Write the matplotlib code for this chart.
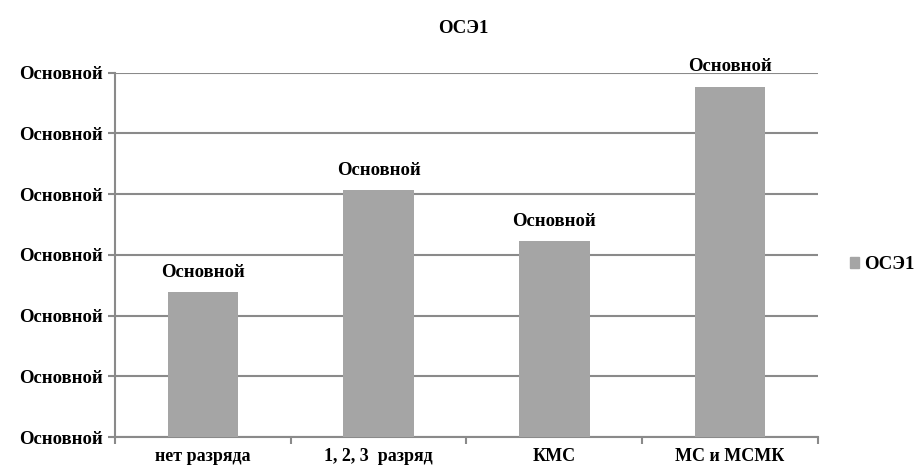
"""
Bar chart of the ОСЭ1 indicator by sports qualification level
"""

from matplotlib import pyplot as plt
from matplotlib.ticker import FixedLocator, FuncFormatter
from matplotlib.patches import Patch
import numpy as np

###############################################################################
categories = ['нет разряда', '1, 2, 3  разряд', 'КМС', 'МС и МСМК']
values = [2.39, 4.07, 3.23, 5.77]
bar_labels = ['Основной'] * 4
series_name = 'ОСЭ1'
title = 'ОСЭ1'
axis_label = 'Основной'

###############################################################################
plt.rcParams['font.family'] = ['Liberation Serif', 'DejaVu Serif']
plt.rcParams['font.weight'] = 'bold'

grey_line = '#8a8a8a'
bar_color = '#a5a5a5'
fs = 13.5

fig = plt.figure(figsize=(9.22, 4.69), dpi=100)
ax = fig.add_axes([0.1247, 0.068, 0.7625, 0.7772])

x = np.arange(len(categories))
bars = ax.bar(x, values, width=0.4, color=bar_color, zorder=3)
ax.bar_label(bars, labels=bar_labels, padding=8, fontsize=fs,
             fontweight='bold')

ax.set_xlim(-0.5, len(categories) - 0.5)
ax.set_ylim(0, 6)
ax.set_yticks(np.arange(0, 7))
ax.yaxis.set_major_formatter(FuncFormatter(lambda v, pos: axis_label))
ax.grid(axis='y', color=grey_line, linewidth=1.5, zorder=0)

# category names centred, tick marks on the boundaries
ax.set_xticks(x)
ax.set_xticklabels(categories, fontsize=13, fontweight='bold')
ax.xaxis.set_minor_locator(FixedLocator(np.arange(-0.5, len(categories), 1)))
ax.tick_params(axis='x', which='major', length=0, pad=8)
ax.tick_params(axis='x', which='minor', length=5, width=1.5,
               color=grey_line)
ax.tick_params(axis='y', length=5, width=1.5, color=grey_line,
               labelsize=fs, pad=4)

for side in ['top', 'right']:
    ax.spines[side].set_visible(False)
for side in ['left', 'bottom']:
    ax.spines[side].set_color(grey_line)
    ax.spines[side].set_linewidth(1.5)

fig.text(0.503, 0.94, title, ha='center', va='center', fontsize=fs,
         fontweight='bold')

fig.legend(handles=[Patch(color=bar_color, label=series_name)],
           loc='center left', bbox_to_anchor=(0.922, 0.435), frameon=False,
           handlelength=0.5, handleheight=0.5, handletextpad=0.25,
           borderaxespad=0, borderpad=0,
           prop={'weight': 'bold', 'size': fs})

plt.savefig('out.png', dpi=100, facecolor='white')
